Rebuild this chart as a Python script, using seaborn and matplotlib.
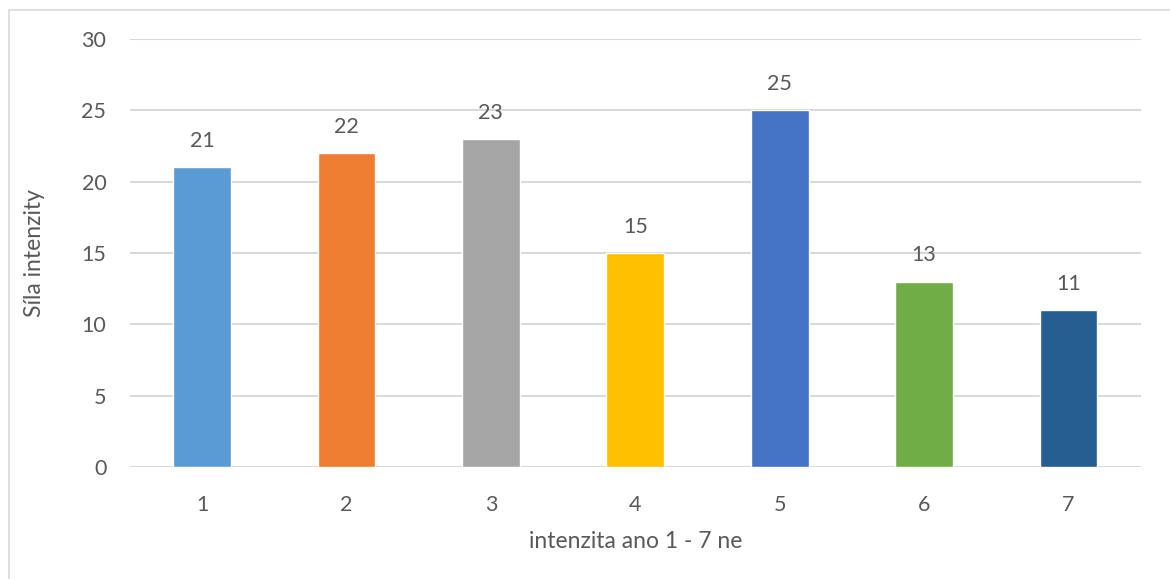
import matplotlib
matplotlib.use("Agg")
import matplotlib.pyplot as plt
from matplotlib.patches import Rectangle
import seaborn as sns
import pandas as pd

categories = ["1", "2", "3", "4", "5", "6", "7"]
values = [21, 22, 23, 15, 25, 13, 11]
colors = ["#5B9BD5", "#ED7D31", "#A5A5A5", "#FFC000", "#4472C4", "#70AD47", "#255E91"]

sns.set_style("white")
plt.rcParams['font.family'] = ['Lato', 'DejaVu Sans']
text_col = "#595959"

df = pd.DataFrame({"cat": categories, "val": values})

fig = plt.figure(figsize=(11.7, 5.79), dpi=100)
ax = fig.add_axes([0.111, 0.1934, 0.864, 0.7392])

sns.barplot(data=df, x="cat", y="val", hue="cat", palette=colors,
            width=0.4, legend=False, ax=ax, saturation=1)

ax.set_ylim(0, 30)
ax.set_yticks(range(0, 31, 5))
ax.grid(axis="y", color="#D9D9D9", linewidth=1.5)
ax.set_axisbelow(True)
for s in ax.spines.values():
    s.set_visible(False)
ax.tick_params(axis="both", length=0, labelsize=15.5, colors=text_col, pad=20)
ax.tick_params(axis="y", pad=17)

for i, v in enumerate(values):
    ax.annotate(str(v), (i, v), xytext=(0, 19), textcoords="offset points",
                ha="center", va="center", fontsize=15.5, color=text_col)

ax.set_xlabel("intenzita ano 1 - 7 ne", fontsize=16.5, color=text_col, labelpad=12)
ax.set_ylabel("Síla intenzity", fontsize=16.5, color=text_col, labelpad=26)

fig.patches.append(Rectangle((8.5 / 1170, -0.1), 1.2, 1.1 - 10 / 579,
                             transform=fig.transFigure, fill=False,
                             edgecolor="#D9D9D9", linewidth=1.2))

fig.savefig("out.png", dpi=100)
